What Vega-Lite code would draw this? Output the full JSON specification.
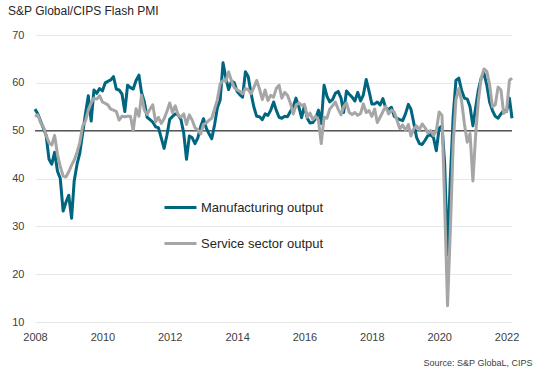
{
"$schema":"https://vega.github.io/schema/vega-lite/v6.json",
"width":477,"height":287,
"autosize":{"type":"none"},
"padding":{"left":35,"top":35,"right":31,"bottom":54},
"background":"white",
"config":{"font":"Liberation Sans","view":{"stroke":null}},
"title":{"text":"S&P Global/CIPS Flash PMI","anchor":"start","frame":"group","orient":"top","dx":-27,"offset":11,"fontSize":12,"fontWeight":"normal","color":"#262626","font":"Liberation Sans"},
"data":{"values":[
{"date":"2008-01-01","Manufacturing output":54.5,"Service sector output":53.0},
{"date":"2008-02-01","Manufacturing output":53.5,"Service sector output":53.3},
{"date":"2008-03-01","Manufacturing output":52.0,"Service sector output":51.7},
{"date":"2008-04-01","Manufacturing output":50.5,"Service sector output":50.8},
{"date":"2008-05-01","Manufacturing output":49.0,"Service sector output":49.0},
{"date":"2008-06-01","Manufacturing output":44.0,"Service sector output":47.5},
{"date":"2008-07-01","Manufacturing output":43.0,"Service sector output":47.0},
{"date":"2008-08-01","Manufacturing output":45.5,"Service sector output":49.0},
{"date":"2008-09-01","Manufacturing output":41.5,"Service sector output":45.0},
{"date":"2008-10-01","Manufacturing output":40.0,"Service sector output":42.5},
{"date":"2008-11-01","Manufacturing output":33.2,"Service sector output":40.5},
{"date":"2008-12-01","Manufacturing output":35.0,"Service sector output":40.3},
{"date":"2009-01-01","Manufacturing output":36.5,"Service sector output":41.4},
{"date":"2009-02-01","Manufacturing output":31.7,"Service sector output":42.8},
{"date":"2009-03-01","Manufacturing output":39.5,"Service sector output":43.8},
{"date":"2009-04-01","Manufacturing output":43.0,"Service sector output":45.5},
{"date":"2009-05-01","Manufacturing output":45.3,"Service sector output":47.5},
{"date":"2009-06-01","Manufacturing output":49.5,"Service sector output":51.0},
{"date":"2009-07-01","Manufacturing output":53.5,"Service sector output":52.0},
{"date":"2009-08-01","Manufacturing output":57.3,"Service sector output":54.3},
{"date":"2009-09-01","Manufacturing output":52.0,"Service sector output":55.8},
{"date":"2009-10-01","Manufacturing output":58.5,"Service sector output":56.8},
{"date":"2009-11-01","Manufacturing output":57.8,"Service sector output":56.6},
{"date":"2009-12-01","Manufacturing output":58.8,"Service sector output":57.3},
{"date":"2010-01-01","Manufacturing output":58.3,"Service sector output":56.0},
{"date":"2010-02-01","Manufacturing output":60.0,"Service sector output":55.7},
{"date":"2010-03-01","Manufacturing output":60.3,"Service sector output":55.4},
{"date":"2010-04-01","Manufacturing output":60.6,"Service sector output":54.5},
{"date":"2010-05-01","Manufacturing output":61.3,"Service sector output":54.3},
{"date":"2010-06-01","Manufacturing output":58.7,"Service sector output":54.0},
{"date":"2010-07-01","Manufacturing output":58.5,"Service sector output":52.2},
{"date":"2010-08-01","Manufacturing output":57.7,"Service sector output":53.0},
{"date":"2010-09-01","Manufacturing output":54.0,"Service sector output":52.9},
{"date":"2010-10-01","Manufacturing output":59.5,"Service sector output":53.0},
{"date":"2010-11-01","Manufacturing output":59.0,"Service sector output":53.0},
{"date":"2010-12-01","Manufacturing output":58.7,"Service sector output":50.0},
{"date":"2011-01-01","Manufacturing output":60.5,"Service sector output":54.6},
{"date":"2011-02-01","Manufacturing output":61.6,"Service sector output":53.0},
{"date":"2011-03-01","Manufacturing output":58.0,"Service sector output":57.4},
{"date":"2011-04-01","Manufacturing output":56.0,"Service sector output":54.3},
{"date":"2011-05-01","Manufacturing output":52.8,"Service sector output":53.4},
{"date":"2011-06-01","Manufacturing output":52.3,"Service sector output":54.5},
{"date":"2011-07-01","Manufacturing output":51.8,"Service sector output":55.4},
{"date":"2011-08-01","Manufacturing output":50.8,"Service sector output":51.8},
{"date":"2011-09-01","Manufacturing output":50.6,"Service sector output":52.8},
{"date":"2011-10-01","Manufacturing output":48.5,"Service sector output":51.5},
{"date":"2011-11-01","Manufacturing output":46.3,"Service sector output":52.5},
{"date":"2011-12-01","Manufacturing output":49.0,"Service sector output":54.0},
{"date":"2012-01-01","Manufacturing output":52.4,"Service sector output":55.8},
{"date":"2012-02-01","Manufacturing output":53.0,"Service sector output":53.8},
{"date":"2012-03-01","Manufacturing output":53.5,"Service sector output":55.2},
{"date":"2012-04-01","Manufacturing output":53.3,"Service sector output":53.3},
{"date":"2012-05-01","Manufacturing output":52.4,"Service sector output":52.8},
{"date":"2012-06-01","Manufacturing output":49.5,"Service sector output":53.5},
{"date":"2012-07-01","Manufacturing output":44.0,"Service sector output":51.3},
{"date":"2012-08-01","Manufacturing output":48.9,"Service sector output":53.3},
{"date":"2012-09-01","Manufacturing output":48.5,"Service sector output":52.2},
{"date":"2012-10-01","Manufacturing output":47.3,"Service sector output":50.6},
{"date":"2012-11-01","Manufacturing output":48.5,"Service sector output":50.2},
{"date":"2012-12-01","Manufacturing output":50.8,"Service sector output":49.3},
{"date":"2013-01-01","Manufacturing output":52.5,"Service sector output":51.3},
{"date":"2013-02-01","Manufacturing output":50.5,"Service sector output":51.6},
{"date":"2013-03-01","Manufacturing output":49.4,"Service sector output":52.2},
{"date":"2013-04-01","Manufacturing output":48.3,"Service sector output":52.6},
{"date":"2013-05-01","Manufacturing output":51.2,"Service sector output":54.5},
{"date":"2013-06-01","Manufacturing output":54.8,"Service sector output":56.5},
{"date":"2013-07-01","Manufacturing output":56.4,"Service sector output":59.8},
{"date":"2013-08-01","Manufacturing output":64.2,"Service sector output":60.5},
{"date":"2013-09-01","Manufacturing output":61.0,"Service sector output":60.3},
{"date":"2013-10-01","Manufacturing output":58.6,"Service sector output":62.3},
{"date":"2013-11-01","Manufacturing output":60.4,"Service sector output":60.4},
{"date":"2013-12-01","Manufacturing output":60.0,"Service sector output":59.0},
{"date":"2014-01-01","Manufacturing output":58.2,"Service sector output":58.5},
{"date":"2014-02-01","Manufacturing output":57.5,"Service sector output":58.2},
{"date":"2014-03-01","Manufacturing output":57.0,"Service sector output":57.7},
{"date":"2014-04-01","Manufacturing output":62.3,"Service sector output":58.8},
{"date":"2014-05-01","Manufacturing output":61.3,"Service sector output":58.6},
{"date":"2014-06-01","Manufacturing output":57.8,"Service sector output":57.7},
{"date":"2014-07-01","Manufacturing output":55.0,"Service sector output":59.0},
{"date":"2014-08-01","Manufacturing output":53.0,"Service sector output":60.5},
{"date":"2014-09-01","Manufacturing output":52.9,"Service sector output":58.7},
{"date":"2014-10-01","Manufacturing output":52.3,"Service sector output":56.5},
{"date":"2014-11-01","Manufacturing output":53.5,"Service sector output":58.5},
{"date":"2014-12-01","Manufacturing output":53.2,"Service sector output":56.3},
{"date":"2015-01-01","Manufacturing output":54.3,"Service sector output":57.4},
{"date":"2015-02-01","Manufacturing output":56.0,"Service sector output":57.0},
{"date":"2015-03-01","Manufacturing output":54.3,"Service sector output":58.8},
{"date":"2015-04-01","Manufacturing output":52.8,"Service sector output":59.5},
{"date":"2015-05-01","Manufacturing output":52.6,"Service sector output":56.8},
{"date":"2015-06-01","Manufacturing output":53.0,"Service sector output":58.0},
{"date":"2015-07-01","Manufacturing output":52.9,"Service sector output":57.4},
{"date":"2015-08-01","Manufacturing output":54.0,"Service sector output":55.8},
{"date":"2015-09-01","Manufacturing output":55.0,"Service sector output":53.5},
{"date":"2015-10-01","Manufacturing output":56.8,"Service sector output":55.3},
{"date":"2015-11-01","Manufacturing output":55.0,"Service sector output":55.8},
{"date":"2015-12-01","Manufacturing output":52.7,"Service sector output":55.3},
{"date":"2016-01-01","Manufacturing output":55.2,"Service sector output":55.5},
{"date":"2016-02-01","Manufacturing output":52.6,"Service sector output":52.8},
{"date":"2016-03-01","Manufacturing output":51.6,"Service sector output":53.7},
{"date":"2016-04-01","Manufacturing output":51.7,"Service sector output":52.3},
{"date":"2016-05-01","Manufacturing output":52.5,"Service sector output":53.0},
{"date":"2016-06-01","Manufacturing output":54.3,"Service sector output":52.2},
{"date":"2016-07-01","Manufacturing output":51.5,"Service sector output":47.3},
{"date":"2016-08-01","Manufacturing output":59.5,"Service sector output":52.8},
{"date":"2016-09-01","Manufacturing output":57.2,"Service sector output":52.6},
{"date":"2016-10-01","Manufacturing output":56.0,"Service sector output":54.5},
{"date":"2016-11-01","Manufacturing output":56.5,"Service sector output":55.2},
{"date":"2016-12-01","Manufacturing output":57.8,"Service sector output":56.0},
{"date":"2017-01-01","Manufacturing output":58.2,"Service sector output":54.5},
{"date":"2017-02-01","Manufacturing output":56.8,"Service sector output":53.3},
{"date":"2017-03-01","Manufacturing output":53.8,"Service sector output":55.0},
{"date":"2017-04-01","Manufacturing output":58.3,"Service sector output":55.8},
{"date":"2017-05-01","Manufacturing output":57.6,"Service sector output":53.8},
{"date":"2017-06-01","Manufacturing output":57.0,"Service sector output":53.4},
{"date":"2017-07-01","Manufacturing output":56.2,"Service sector output":53.8},
{"date":"2017-08-01","Manufacturing output":58.0,"Service sector output":53.2},
{"date":"2017-09-01","Manufacturing output":56.2,"Service sector output":53.6},
{"date":"2017-10-01","Manufacturing output":57.5,"Service sector output":55.6},
{"date":"2017-11-01","Manufacturing output":60.7,"Service sector output":53.8},
{"date":"2017-12-01","Manufacturing output":58.3,"Service sector output":54.2},
{"date":"2018-01-01","Manufacturing output":55.6,"Service sector output":53.0},
{"date":"2018-02-01","Manufacturing output":55.6,"Service sector output":54.5},
{"date":"2018-03-01","Manufacturing output":56.0,"Service sector output":51.7},
{"date":"2018-04-01","Manufacturing output":55.4,"Service sector output":52.8},
{"date":"2018-05-01","Manufacturing output":56.7,"Service sector output":54.0},
{"date":"2018-06-01","Manufacturing output":54.7,"Service sector output":55.1},
{"date":"2018-07-01","Manufacturing output":54.4,"Service sector output":53.5},
{"date":"2018-08-01","Manufacturing output":54.9,"Service sector output":54.3},
{"date":"2018-09-01","Manufacturing output":53.0,"Service sector output":53.9},
{"date":"2018-10-01","Manufacturing output":52.6,"Service sector output":52.2},
{"date":"2018-11-01","Manufacturing output":52.3,"Service sector output":50.4},
{"date":"2018-12-01","Manufacturing output":52.1,"Service sector output":51.2},
{"date":"2019-01-01","Manufacturing output":53.5,"Service sector output":50.1},
{"date":"2019-02-01","Manufacturing output":55.5,"Service sector output":51.3},
{"date":"2019-03-01","Manufacturing output":54.5,"Service sector output":48.9},
{"date":"2019-04-01","Manufacturing output":51.6,"Service sector output":50.4},
{"date":"2019-05-01","Manufacturing output":48.6,"Service sector output":51.0},
{"date":"2019-06-01","Manufacturing output":47.3,"Service sector output":50.2},
{"date":"2019-07-01","Manufacturing output":47.1,"Service sector output":51.4},
{"date":"2019-08-01","Manufacturing output":48.0,"Service sector output":50.6},
{"date":"2019-09-01","Manufacturing output":49.0,"Service sector output":49.5},
{"date":"2019-10-01","Manufacturing output":49.2,"Service sector output":50.0},
{"date":"2019-11-01","Manufacturing output":48.5,"Service sector output":49.0},
{"date":"2019-12-01","Manufacturing output":45.8,"Service sector output":50.0},
{"date":"2020-01-01","Manufacturing output":50.5,"Service sector output":53.9},
{"date":"2020-02-01","Manufacturing output":51.0,"Service sector output":53.2},
{"date":"2020-03-01","Manufacturing output":43.0,"Service sector output":34.5},
{"date":"2020-04-01","Manufacturing output":24.0,"Service sector output":13.4},
{"date":"2020-05-01","Manufacturing output":40.0,"Service sector output":29.0},
{"date":"2020-06-01","Manufacturing output":53.0,"Service sector output":47.1},
{"date":"2020-07-01","Manufacturing output":60.5,"Service sector output":56.5},
{"date":"2020-08-01","Manufacturing output":61.0,"Service sector output":58.8},
{"date":"2020-09-01","Manufacturing output":58.4,"Service sector output":56.1},
{"date":"2020-10-01","Manufacturing output":56.8,"Service sector output":51.4},
{"date":"2020-11-01","Manufacturing output":56.6,"Service sector output":47.6},
{"date":"2020-12-01","Manufacturing output":55.0,"Service sector output":49.4},
{"date":"2021-01-01","Manufacturing output":51.0,"Service sector output":39.5},
{"date":"2021-02-01","Manufacturing output":55.0,"Service sector output":49.5},
{"date":"2021-03-01","Manufacturing output":58.5,"Service sector output":56.3},
{"date":"2021-04-01","Manufacturing output":61.0,"Service sector output":61.0},
{"date":"2021-05-01","Manufacturing output":62.0,"Service sector output":62.9},
{"date":"2021-06-01","Manufacturing output":59.5,"Service sector output":62.4},
{"date":"2021-07-01","Manufacturing output":56.0,"Service sector output":59.6},
{"date":"2021-08-01","Manufacturing output":54.2,"Service sector output":55.0},
{"date":"2021-09-01","Manufacturing output":53.0,"Service sector output":55.4},
{"date":"2021-10-01","Manufacturing output":52.6,"Service sector output":59.1},
{"date":"2021-11-01","Manufacturing output":53.5,"Service sector output":58.5},
{"date":"2021-12-01","Manufacturing output":54.2,"Service sector output":53.6},
{"date":"2022-01-01","Manufacturing output":54.0,"Service sector output":54.1},
{"date":"2022-02-01","Manufacturing output":56.8,"Service sector output":60.5},
{"date":"2022-03-01","Manufacturing output":52.6,"Service sector output":61.0}
]},
"encoding":{
 "x":{"field":"date","type":"temporal",
  "scale":{"domain":[{"year":2008,"month":1,"date":1},{"year":2022,"month":3,"date":1}]},
  "axis":{"title":"Source: S&P GlobaL, CIPS","titleAnchor":"end","titleAlign":"right","titleX":497,"titleY":43,"titleBaseline":"alphabetic","titleFontSize":9,"titleFontWeight":"normal","titleColor":"#404040","titleFont":"Liberation Sans",
   "format":"%Y","values":[{"year":2008,"month":1,"date":1},{"year":2010,"month":1,"date":1},{"year":2012,"month":1,"date":1},{"year":2014,"month":1,"date":1},{"year":2016,"month":1,"date":1},{"year":2018,"month":1,"date":1},{"year":2020,"month":1,"date":1},{"year":2022,"month":1,"date":1}],
   "grid":false,"domain":false,"ticks":false,"labelPadding":9,"labelFontSize":11,"labelColor":"#404040","labelFont":"Liberation Sans","labelFlush":false,"labelOverlap":false}}
},
"layer":[
 {"data":{"values":[{}]},"mark":{"type":"rule","color":"#595959","strokeWidth":1.5},
  "encoding":{"x":null,"y":{"datum":50,"type":"quantitative","scale":{"domain":[10,70],"zero":false}}}},
 {"transform":[{"fold":["Manufacturing output","Service sector output"],"as":["series","value"]},{"filter":"datum.series == 'Manufacturing output'"}],
  "mark":{"type":"line","strokeWidth":3,"strokeJoin":"round"},
  "encoding":{
   "y":{"field":"value","type":"quantitative","scale":{"domain":[10,70],"zero":false},
    "axis":{"values":[10,20,30,40,50,60,70],"title":null,"domain":false,"ticks":false,"labelPadding":11,"labelFontSize":11,"labelColor":"#404040","labelFont":"Liberation Sans","gridColor":"#e8e8e8","grid":true}},
   "color":{"field":"series","type":"nominal","scale":{"domain":["Manufacturing output","Service sector output"],"range":["#00667f","#a6a6a6"]},
    "legend":{"orient":"none","legendX":128,"legendY":155,"title":null,"symbolType":"stroke","symbolSize":1024,"symbolStrokeWidth":3,"labelFontSize":13,"labelFont":"Liberation Sans","labelColor":"#262626","rowPadding":11,"labelOffset":3}}}},
 {"transform":[{"fold":["Manufacturing output","Service sector output"],"as":["series","value"]},{"filter":"datum.series == 'Service sector output'"}],
  "mark":{"type":"line","strokeWidth":3,"strokeJoin":"round"},
  "encoding":{
   "y":{"field":"value","type":"quantitative","scale":{"domain":[10,70],"zero":false}},
   "color":{"field":"series","type":"nominal"}}}
]
}
